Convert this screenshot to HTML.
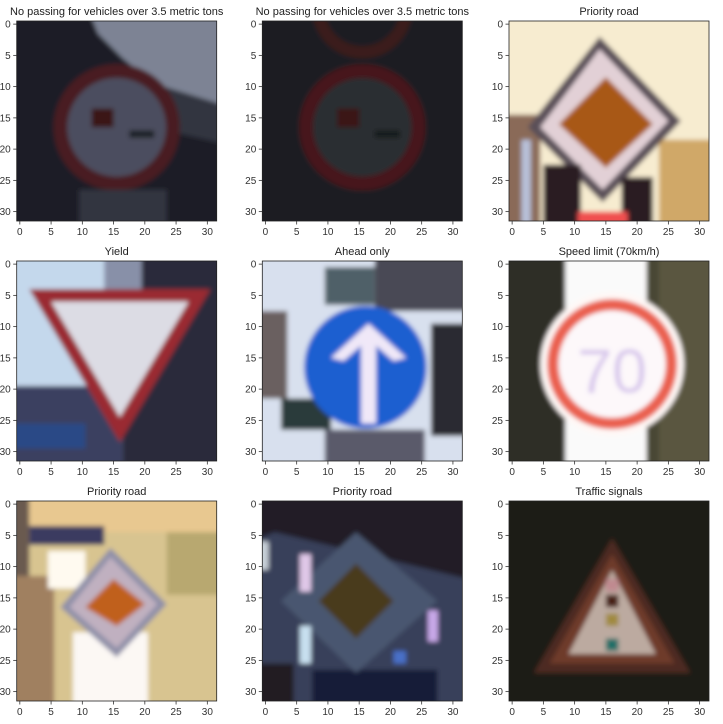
<!DOCTYPE html>
<html><head><meta charset="utf-8"><style>
html,body{margin:0;padding:0;background:#fff;}
svg{display:block;font-family:"Liberation Sans","DejaVu Sans",sans-serif;}
</style></head><body>
<svg id="fig" width="723" height="724" viewBox="0 0 723 724" xmlns="http://www.w3.org/2000/svg">
<defs>
<filter id="bl" filterUnits="userSpaceOnUse" x="-4" y="-4" width="40" height="40"><feGaussianBlur stdDeviation="0.4"/></filter>
<clipPath id="cp"><rect x="0" y="0" width="32" height="32"/></clipPath>
</defs>
<g id="panels"></g>
</svg>
<script>
const titles = ["No passing for vehicles over 3.5 metric tons","No passing for vehicles over 3.5 metric tons","Priority road","Yield","Ahead only","Speed limit (70km/h)","Priority road","Priority road","Traffic signals"];
const tickLabels = [0,5,10,15,20,25,30];
const colX = [16.7, 262.3, 509];
const rowY = [21, 261, 501];
const size = 200;

const art = [
// 1 no passing
`<rect x="-3" y="-3" width="38" height="38" fill="#1d1e25"/>
<polygon points="11,-3 35,-3 35,14 27,13 22,10 17,6 13,2" fill="#7d8394"/>
<polygon points="22,10 35,14 35,20 26,18" fill="#33363f"/>
<circle cx="16" cy="17" r="9" fill="#4c4e5e" stroke="#4a1e22" stroke-width="2.2"/>
<rect x="12" y="14" width="3.5" height="3" fill="#3a1418"/>
<rect x="18" y="17.5" width="4" height="1.2" fill="#1a2228"/>
<rect x="10" y="27" width="14" height="8" fill="#32363f"/>`,
// 2
`<rect x="-3" y="-3" width="38" height="38" fill="#1a1f21"/>
<circle cx="16" cy="-2" r="7" fill="none" stroke="#3a1c1e" stroke-width="2"/>
<circle cx="16" cy="17" r="9" fill="#2a2d31" stroke="#47191c" stroke-width="2.2"/>
<rect x="12" y="14" width="3.5" height="3" fill="#3a1418"/>
<rect x="18" y="17.5" width="4" height="1.2" fill="#161c1f"/>`,
// 3 priority road
`<rect x="-3" y="-3" width="38" height="38" fill="#f7ecd0"/>
<rect x="-3" y="15" width="8" height="20" fill="#8a6a58"/>
<rect x="2" y="19" width="1.5" height="16" fill="#b8c0d8"/>
<rect x="24" y="19" width="11" height="16" fill="#d0a868"/>
<polygon points="14.5,2.5 27.5,16 15,29 3,17" fill="#5a5058"/>
<polygon points="14.5,4.5 25.5,16 15,27 5,17" fill="#e2d0d6"/>
<polygon points="15.5,9 23,16.5 15.5,23.5 8,16.5" fill="#a85818"/>
<rect x="5.5" y="23" width="6" height="12" fill="#2a1c20"/>
<rect x="18" y="25" width="5" height="10" fill="#2a1c20"/>
<rect x="11" y="30.5" width="8" height="4" fill="#f05050"/>`,
// 4 yield
`<rect x="-3" y="-3" width="38" height="38" fill="#c4d8ec"/>
<rect x="17" y="-3" width="18" height="38" fill="#2c2c3a"/>
<polygon points="-3,20 17,20 17,35 -3,35" fill="#3a4060"/>
<polygon points="14,-3 20,-3 20,10 14,10" fill="#8890a8"/>
<polygon points="2,4.5 31,4.5 16.5,29" fill="#9a2c30"/>
<polygon points="5.5,6.5 27.5,6.5 16.5,25" fill="#dcdce4"/>
<rect x="-3" y="26" width="14" height="4" fill="#2a4a86"/>`,
// 5 ahead only
`<rect x="-3" y="-3" width="38" height="38" fill="#d8e0ee"/>
<rect x="18" y="-3" width="17" height="11" fill="#4a4a54"/>
<rect x="10" y="1" width="8" height="6" fill="#506068"/>
<rect x="-3" y="8" width="7" height="14" fill="#6a6060"/>
<rect x="27" y="10" width="8" height="18" fill="#2a2a30"/>
<rect x="3" y="22" width="8" height="5" fill="#2a3a3a"/>
<rect x="10" y="27" width="16" height="8" fill="#5a5a6a"/>
<circle cx="16.5" cy="17" r="9.8" fill="#1f5ed0"/>
<rect x="15.8" y="12" width="2.4" height="14" fill="#f0e8f8"/>
<polygon points="17,10 23,15.5 21,16 17,12.5 13,16 11,15.5" fill="#f0e8f8"/>`,
// 6 speed limit 70
`<rect x="-3" y="-3" width="38" height="38" fill="#4a4634"/>
<rect x="-3" y="-3" width="12" height="38" fill="#2e2e26"/>
<rect x="24" y="-3" width="11" height="38" fill="#5a5640"/>
<rect x="9" y="-3" width="13" height="38" fill="#fafafa"/>
<circle cx="16.5" cy="16.5" r="11.5" fill="#fff8f6"/>
<circle cx="16.5" cy="16.5" r="9.5" fill="#fdf8fa" stroke="#ea6050" stroke-width="1.8"/>
<text x="16.5" y="21" font-size="10" text-anchor="middle" fill="#d8c8ec" font-family="Liberation Sans, sans-serif">70</text>`,
// 7 priority road
`<rect x="-3" y="-3" width="38" height="38" fill="#d8c490"/>
<rect x="2" y="-3" width="33" height="8" fill="#e8c890"/>
<rect x="2" y="4" width="12" height="3" fill="#3a3a60"/>
<rect x="-3" y="-3" width="5" height="38" fill="#6a5a50"/>
<rect x="-3" y="12" width="9" height="23" fill="#a08060"/>
<rect x="5" y="8" width="6" height="6" fill="#fffaf0"/>
<rect x="9" y="21" width="12" height="14" fill="#fcf8f4"/>
<rect x="24" y="5" width="11" height="10" fill="#b8a870"/>
<polygon points="15,7.5 24,16.5 16,25 7,17" fill="#9090a8"/>
<polygon points="15,9 22.5,16.5 16,23.5 8.5,17" fill="#c0b0c0"/>
<polygon points="15.5,12.5 20.5,16.5 16,20 11,17" fill="#c0601c"/>`,
// 8 priority road dark
`<rect x="-3" y="-3" width="38" height="38" fill="#241c26"/>
<polygon points="2,5 35,13 35,35 -3,35 -3,7" fill="#38405a"/>
<rect x="-3" y="26" width="8" height="9" fill="#201c24"/>
<rect x="8" y="27" width="20" height="8" fill="#141a38"/>
<polygon points="15,5 28,16 15,27.5 3,16" fill="#4a5670"/>
<polygon points="15,10 21,16 15,22 9,16" fill="#4a3a1c"/>
<rect x="6" y="8.5" width="1.8" height="6" fill="#e0c8e8"/>
<rect x="6" y="20" width="1.8" height="6" fill="#c8e0f0"/>
<rect x="26.5" y="17.5" width="1.6" height="5" fill="#c8a8e8"/>
<rect x="21" y="24" width="2" height="2" fill="#4a70c8"/>
<rect x="-3" y="6.5" width="4" height="4.5" fill="#c8d0d8"/>`,
// 9 traffic signals
`<rect x="-3" y="-3" width="38" height="38" fill="#1f1a18"/>
<polygon points="16.5,6 29,27.5 4,27.5" fill="#4e2a22"/>
<polygon points="16.5,8.5 26.5,26 6.5,26" fill="#6e3a2c"/>
<polygon points="16.5,11 23.5,24.5 9.5,24.5" fill="#bcaaa0"/>
<rect x="15.5" y="12.5" width="2" height="2" fill="#c08a90"/>
<rect x="15.5" y="15" width="2" height="2" fill="#4a2418"/>
<rect x="15.5" y="18" width="2" height="2" fill="#a08a40"/>
<rect x="15.5" y="22" width="2" height="2" fill="#207068"/>`
];

const NS = "http://www.w3.org/2000/svg";
const root = document.getElementById('panels');
function xs(v){ return (v + 0.5) / 32 * size; }

for (let i = 0; i < 9; i++) {
  const x0 = colX[i % 3], y0 = rowY[Math.floor(i / 3)];
  const g = document.createElementNS(NS, 'g');
  
  
  g.setAttribute('transform', `translate(${x0},${y0})`);
  let s = `<g transform="scale(${size/32})" clip-path="url(#cp)"><g filter="url(#bl)">${art[i]}</g></g>`;
  s += `<rect x="0" y="0" width="${size}" height="${size}" fill="none" stroke="#222" stroke-width="0.8"/>`;
  s += `<text x="${size/2}" y="-6" font-size="11" text-anchor="middle" fill="#222">${titles[i]}</text>`;
  for (const t of tickLabels) {
    const p = xs(t);
    s += `<line x1="${p}" y1="${size}" x2="${p}" y2="${size+3.5}" stroke="#333" stroke-width="0.8"/>`;
    s += `<text x="${p}" y="${size+14}" font-size="10" text-anchor="middle" fill="#333">${t}</text>`;
    s += `<line x1="0" y1="${p}" x2="-3.5" y2="${p}" stroke="#333" stroke-width="0.8"/>`;
    s += `<text x="-6" y="${p+3.5}" font-size="10" text-anchor="end" fill="#333">${t}</text>`;
  }
  g.innerHTML = s;
  root.appendChild(g);
}
</script>
</body></html>
